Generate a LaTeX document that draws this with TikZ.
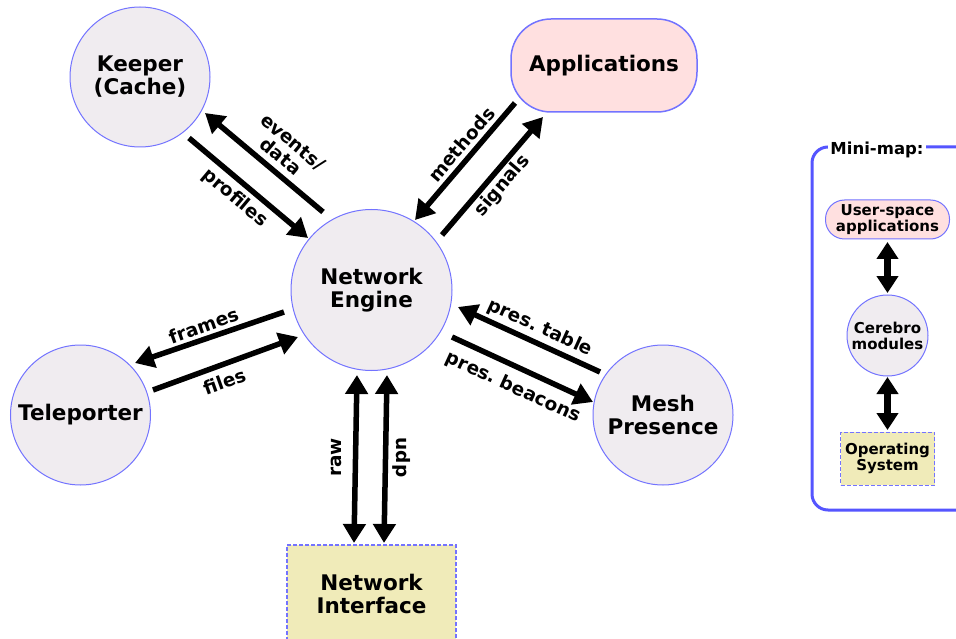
\documentclass[tikz,border=0pt]{standalone}
\usepackage{fontspec}
\setmainfont{DejaVu Sans}
\usetikzlibrary{arrows.meta,calc}
\definecolor{nodefill}{RGB}{240,236,240}
\definecolor{nodeline}{RGB}{115,115,255}
\definecolor{appfill}{RGB}{255,224,224}
\definecolor{osfill}{RGB}{240,235,185}
\definecolor{mapline}{RGB}{85,85,255}
\frenchspacing
\begin{document}
\begin{tikzpicture}[x=1pt,y=-1pt,
  every node/.style={outer sep=0pt},
  bigfont/.style={font=\fontsize{21.5}{23}\selectfont\bfseries},
  smallfont/.style={font=\fontsize{15}{16}\selectfont\bfseries},
  mod/.style={circle,draw=nodeline,line width=1pt,fill=nodefill,minimum size=#1,inner sep=0pt,align=center},
  appbox/.style={rectangle,draw=nodeline,line width=1.5pt,fill=appfill,inner sep=0pt,align=center},
  osbox/.style={rectangle,draw=nodeline,line width=1.5pt,dash pattern=on 4pt off 2pt,fill=osfill,inner sep=0pt,align=center},
  lbl/.style={font=\fontsize{18.5}{19}\selectfont\bfseries,align=center,inner sep=0pt},
  arr/.style={line width=5.5pt,-{Triangle[length=19pt,width=22pt]}},
  darr/.style={line width=5.5pt,{Triangle[length=19pt,width=22pt]}-{Triangle[length=19pt,width=22pt]}},
  marr/.style={line width=6.5pt,{Triangle[length=17pt,width=21pt]}-{Triangle[length=17pt,width=21pt]}}
]
\useasboundingbox (0,0) rectangle (956,639);

% main nodes
\node[mod=140pt,bigfont] (keeper) at (140,77) {Keeper\\(Cache)};
\node[mod=161pt,bigfont] (engine) at (371.5,290) {Network\\Engine};
\node[mod=140pt,bigfont] (tele) at (80.5,415) {Teleporter};
\node[mod=140pt,bigfont] (mesh) at (663,415) {Mesh\\Presence};
\node[appbox,bigfont,minimum width=186pt,minimum height=93pt,rounded corners=40pt] (apps) at (604,65.5) {Applications};
\node[osbox,bigfont,minimum width=169pt,minimum height=98pt] (iface) at (371.5,594) {Network\\Interface};

% connectors
\draw[arr] ($(engine)+(-48.5,-78)$) -- ($(keeper)+(65,36)$);
\draw[arr] ($(keeper)+(49,61)$) -- ($(engine)+(-63.5,-52)$);
\draw[arr] ($(apps)+(-89,37.5)$) -- ($(engine)+(43.5,-70)$);
\draw[arr] ($(engine)+(70.5,-55)$) -- ($(apps)+(-61,51.5)$);
\draw[arr] ($(engine)+(-87.5,22)$) -- ($(tele)+(54.5,-52)$);
\draw[arr] ($(tele)+(72.5,-25)$) -- ($(engine)+(-73.5,47)$);
\draw[arr] ($(mesh)+(-63,-43)$) -- ($(engine)+(86.5,17)$);
\draw[arr] ($(engine)+(80.5,47)$) -- ($(mesh)+(-70,-13)$);
\draw[darr] ($(engine)+(-14.5,85)$) -- ($(iface.north)+(-17.5,-2)$);
\draw[darr] ($(engine)+(15.5,85)$) -- ($(iface.north)+(12.5,-2)$);

% labels
\node[lbl,rotate=-40] (levents) at (287,149) {events/\\data};
\node[lbl,rotate=-40] (lprofiles) at (235,198) {profiles};
\node[lbl,rotate=49.5] (lmethods) at (461.5,144.5) {methods};
\node[lbl,rotate=49.5] (lsignals) at (502.5,186) {signals};
\node[lbl,rotate=19.5] (lframes) at (203.5,325.5) {frames};
\node[lbl,rotate=19.5] (lfiles) at (224.5,381.5) {files};
\node[lbl,rotate=-24.6] (ltable) at (540,328) {pres. table};
\node[lbl,rotate=-24.6] (lbeacons) at (513,387.5) {pres. beacons};
\node[lbl,rotate=90] (lraw) at (336.5,457.5) {raw};
\node[lbl,rotate=-90] (ludp) at (402,457.5) {udp};

% mini-map
\draw[mapline,line width=3pt,rounded corners=16pt] (812,147) rectangle (990,510);
\node[fill=white,inner sep=2pt,font=\fontsize{16.5}{18}\selectfont\bfseries] (maptitle) at (877,150) {Mini-map:};
\node[appbox,smallfont,line width=1pt,minimum width=124pt,minimum height=39pt,rounded corners=19pt] (user) at (887.5,219.5) {User-space\\applications};
\node[mod=81pt,smallfont] (cerebro) at (887.5,335.5) {Cerebro\\modules};
\node[osbox,smallfont,line width=1pt,minimum width=94pt,minimum height=53pt] (os) at (887.5,458.5) {Operating\\System};
\draw[marr,shorten <=3pt,shorten >=2pt] (user.south) -- (cerebro.north);
\draw[marr,shorten <=1pt,shorten >=2pt] (cerebro.south) -- (os.north);
\end{tikzpicture}
\end{document}
